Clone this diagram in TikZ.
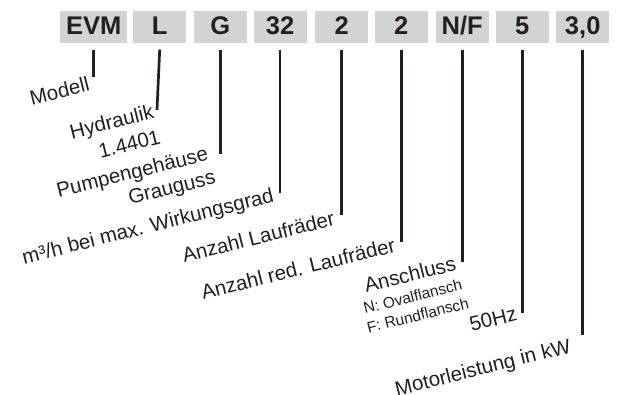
\documentclass[tikz,border=0pt]{standalone}
\usepackage{fontspec}
\setmainfont{Liberation Sans}
\usetikzlibrary{arrows.meta}
\definecolor{typgrau}{RGB}{209,211,212}
\definecolor{typtext}{RGB}{35,31,32}

\begin{document}
\begin{tikzpicture}[x=1pt,y=-1pt,
		feld/.style={fill=typgrau, text=typtext, minimum width=53pt, minimum height=32.3pt,
			inner sep=0pt, text height=18.3pt, text depth=3pt,
			font=\fontsize{25.5}{30}\selectfont\bfseries},
		strich/.style={draw=typtext, line width=2.7pt},
		beschr/.style={text=typtext, rotate=14, inner sep=0pt, font=\fontsize{20.5}{24}\selectfont},
		klein/.style={beschr, font=\fontsize{15.5}{19}\selectfont}]
		\useasboundingbox (0,0) rectangle (620,394);
		\node[feld, minimum width=67.3pt] (evm) at (93.7,27.15) {EVM};
		\node[feld] (hydr) at (159.7,27.15) {L};
		\node[feld] (geh) at (220.3,27.15) {G};
		\node[feld] (foerder) at (280,27.15) {32};
		\node[feld] (laufr) at (341.7,27.15) {2};
		\node[feld] (redlaufr) at (401.3,27.15) {2};
		\node[feld] (anschl) at (462.2,27.15) {N/F};
		\node[feld] (freq) at (522.2,27.15) {5};
		\node[feld] (motor) at (582.7,27.15) {3,0};
		\coordinate (e1) at (93.7,76.5);
		\coordinate (e2) at (157,110);
		\coordinate (e3) at (220.3,154);
		\coordinate (e4) at (280,193.3);
		\coordinate (e5) at (341.7,215);
		\coordinate (e6) at (401.3,241.7);
		\coordinate (e7) at (462.2,262);
		\coordinate (e8) at (522.2,313.3);
		\coordinate (e9) at (582.7,335);
		\draw[strich] ([yshift=-6pt]evm.south) -- (e1);
		\draw[strich] ([yshift=-6pt]hydr.south) -- (e2);
		\draw[strich] ([yshift=-6pt]geh.south) -- (e3);
		\draw[strich] ([yshift=-6pt]foerder.south) -- (e4);
		\draw[strich] ([yshift=-6pt]laufr.south) -- (e5);
		\draw[strich] ([yshift=-6pt]redlaufr.south) -- (e6);
		\draw[strich] ([yshift=-6pt]anschl.south) -- (e7);
		\draw[strich] ([yshift=-6pt]freq.south) -- (e8);
		\draw[strich] ([yshift=-6pt]motor.south) -- (e9);
		\node[beschr, anchor=base east] (modell) at (90.7,90.7) {Modell};
		\node[beschr, anchor=base east] (hydraulik) at (155,118.3) {Hydraulik};
		\node[beschr, anchor=base east] (werkstoff) at (161.7,143.3) {1.4401};
		\node[beschr, anchor=base east] (gehaeuse) at (209.3,160) {Pumpengehäuse};
		\node[beschr, anchor=base east] (grauguss) at (216.7,183.3) {Grauguss};
		\node[beschr, anchor=base east] (wirkung) at (275,201.7) {m³/h bei max. Wirkungsgrad};
		\node[beschr, anchor=base east] (anzahl) at (336,225) {Anzahl Laufräder};
		\node[beschr, anchor=base east] (anzahlred) at (396.7,251.7) {Anzahl red. Laufräder};
		\node[beschr, anchor=base east] (anschluss) at (457.3,270) {Anschluss};
		\node[klein, anchor=base west] (oval) at (365,314) {N: Ovalflansch};
		\node[klein, anchor=base west] (rund) at (368.3,333.3) {F: Rundflansch};
		\node[beschr, anchor=base east] (hz) at (518.3,320) {50Hz};
		\node[beschr, anchor=base east] (leistung) at (572,352.5) {Motorleistung in kW};
	\end{tikzpicture}
\end{document}
